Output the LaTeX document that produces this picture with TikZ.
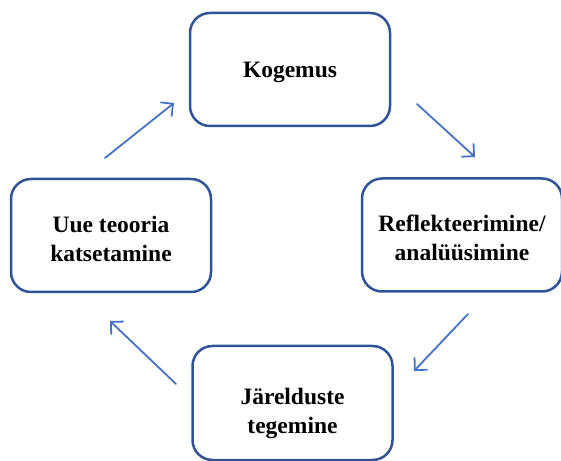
\documentclass[tikz,border=0pt]{standalone}
\usepackage{fontspec}
\setmainfont{Liberation Serif}
\usetikzlibrary{arrows.meta}
\definecolor{boxblue}{HTML}{2F5496}
\definecolor{arrowblue}{HTML}{4472C4}

\begin{document}
\begin{tikzpicture}[x=1pt, y=1pt, line cap=round, line join=round]

	% Styles for the four stages and the arrows between them
	\tikzset{
		cyclebox/.style={draw=boxblue, line width=2.5pt, rounded corners=20pt,
			minimum width=200pt, minimum height=113pt, align=center,
			font=\fontsize{23.5}{29}\selectfont\bfseries, inner sep=0pt},
		cyclearrow/.style={draw=arrowblue, line width=1.8pt,
			-{Straight Barb[length=9pt, width=18pt, line width=1.8pt]}}
	}

	% Frame of the picture
	\useasboundingbox (0,0) rectangle (561,460);

	% The four stages (text height pushes the text a little down)
	\node[cyclebox, text height=22pt] (kogemus) at (290,390.5) {Kogemus};
	\node[cyclebox, text height=52pt] (reflekt) at (462,225) {Reflekteerimine/\\analüüsimine};
	\node[cyclebox, text height=66pt, minimum height=114pt] (jareldus) at (292.5,57) {Järelduste\\tegemine};
	\node[cyclebox, text height=52pt] (teooria) at (111,224.5) {Uue teooria\\katsetamine};

	% Free ends of the arrows
	\coordinate (a1) at (417,356);
	\coordinate (b1) at (475,303);
	\coordinate (a2) at (468,146);
	\coordinate (b2) at (414,89);
	\coordinate (a3) at (176,76);
	\coordinate (b3) at (110,139);
	\coordinate (a4) at (105,302);
	\coordinate (b4) at (174,357);

	% Arrows of the cycle
	\draw[cyclearrow] (a1) -- (b1);
	\draw[cyclearrow] (a2) -- (b2);
	\draw[cyclearrow] (a3) -- (b3);
	\draw[cyclearrow] (a4) -- (b4);

\end{tikzpicture}
\end{document}
